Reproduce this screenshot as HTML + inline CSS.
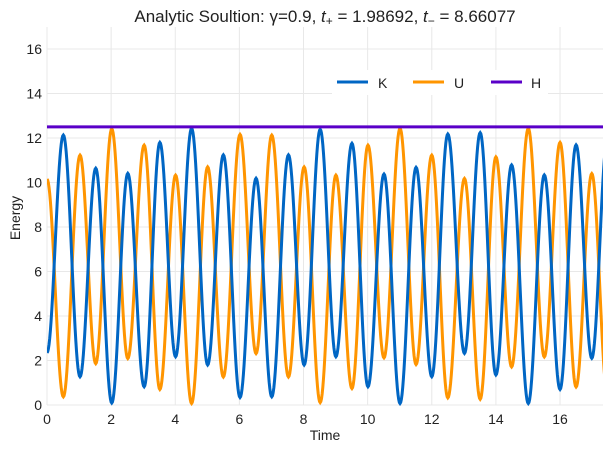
<!DOCTYPE html>
<html><head><meta charset="utf-8"><style>
body{margin:0;background:#fff;}
svg text{font-family:"Liberation Sans","DejaVu Sans",sans-serif;fill:#222;}
</style></head><body>
<svg id="chart" width="611" height="450" xmlns="http://www.w3.org/2000/svg">
<defs><clipPath id="plotclip"><rect x="47" y="27" width="556" height="380"/></clipPath></defs>
<text x="325" y="22" text-anchor="middle" font-size="17">Analytic Soultion: γ=0.9, <tspan font-style="italic">t</tspan><tspan font-size="12" dy="3">+</tspan><tspan dy="-3"> = 1.98692, </tspan><tspan font-style="italic">t</tspan><tspan font-size="12" dy="3">−</tspan><tspan dy="-3"> = 8.66077</tspan></text>
<g id="grid"></g>
<g id="xticks"></g>
<g id="yticks"></g>
<g id="series" clip-path="url(#plotclip)"></g>
<text x="325" y="440" text-anchor="middle" font-size="14">Time</text>
<text x="20" y="218" text-anchor="middle" font-size="14" transform="rotate(-90 20 218)">Energy</text>
<g>
<rect x="332" y="70" width="216" height="25" fill="#fff"/>
<line x1="337" y1="82" x2="368" y2="82" stroke="#0066c4" stroke-width="3"/>
<text x="378" y="88" font-size="14">K</text>
<line x1="413" y1="82" x2="444" y2="82" stroke="#ff9500" stroke-width="3"/>
<text x="454" y="88" font-size="14">U</text>
<line x1="491" y1="82" x2="522" y2="82" stroke="#5a00c8" stroke-width="3"/>
<text x="531" y="88" font-size="14">H</text>
</g>
</svg>
<script>
const xTicks=[0,2,4,6,8,10,12,14,16];
const yTicks=[0,2,4,6,8,10,12,14,16];
const hValue=12.5;
const kTimes=[0,0.51,1.03,1.52,2.02,2.52,3.03,3.52,4.01,4.51,5.01,5.5,6.02,6.52,7.01,7.53,8.02,8.52,9.01,9.51,10.01,10.51,11.01,11.51,12.0,12.5,13.02,13.51,14.0,14.49,15.01,15.51,16.0,16.5,16.99,17.48];
const kValues=[2.35,12.13,1.27,10.64,0.09,10.41,0.82,11.8,2.17,12.43,1.8,11.24,0.34,10.19,0.37,11.24,1.8,12.39,2.17,11.76,0.82,10.38,0.07,10.68,1.27,12.18,2.32,12.24,1.35,10.79,0.07,10.34,0.7,11.69,2.1,12.0];
const uValues=[10.15,0.37,11.23,1.86,12.41,2.09,11.68,0.7,10.33,0.07,10.7,1.26,12.16,2.31,12.13,1.26,10.7,0.11,10.33,0.74,11.68,2.12,12.43,1.82,11.23,0.32,10.18,0.26,11.15,1.71,12.43,2.16,11.8,0.81,10.4,0.5];
const NS="http://www.w3.org/2000/svg";
const X0=47,X1=603,TMAX=17.34,YB=405,PXY=22.25;
function sx(t){return X0+t*(X1-X0)/TMAX;}
function sy(v){return YB-v*PXY;}
function mk(tag,attrs,parent){const e=document.createElementNS(NS,tag);for(const k in attrs)e.setAttribute(k,attrs[k]);parent.appendChild(e);return e;}
const grid=document.getElementById('grid'),xt=document.getElementById('xticks'),yt=document.getElementById('yticks'),ser=document.getElementById('series');
xTicks.forEach(t=>{
 const l=mk('line',{x1:sx(t),x2:sx(t),y1:27,y2:YB,stroke:'#e8e8e8','stroke-width':1},grid);
 
 
 const tx=mk('text',{x:sx(t),y:424,'text-anchor':'middle','font-size':14},xt);tx.textContent=t;
 
 
});
yTicks.forEach(v=>{
 const l=mk('line',{x1:X0,x2:X1,y1:sy(v),y2:sy(v),stroke:'#e8e8e8','stroke-width':1},grid);
 
 
 const tx=mk('text',{x:42,y:sy(v)+5,'text-anchor':'end','font-size':14},yt);tx.textContent=v;
 
 
});
function pathFrom(ts,vs){
 let d='';
 for(let i=0;i<ts.length-1;i++){
  const n=24;
  for(let j=(i==0?0:1);j<=n;j++){
   const f=j/n,e=(1-Math.cos(Math.PI*f))/2;
   const t=ts[i]+(ts[i+1]-ts[i])*f,v=vs[i]+(vs[i+1]-vs[i])*e;
   d+=(d?'L':'M')+sx(t).toFixed(2)+' '+sy(v).toFixed(2);
  }
 }
 return d;
}
const pu=mk('path',{d:pathFrom(kTimes,uValues),fill:'none',stroke:'#ff9500','stroke-width':3},ser);


const pk=mk('path',{d:pathFrom(kTimes,kValues),fill:'none',stroke:'#0066c4','stroke-width':3},ser);


const ph=mk('line',{x1:sx(0),x2:sx(TMAX),y1:sy(hValue),y2:sy(hValue),stroke:'#5a00c8','stroke-width':3},ser);


</script>
</body></html>
